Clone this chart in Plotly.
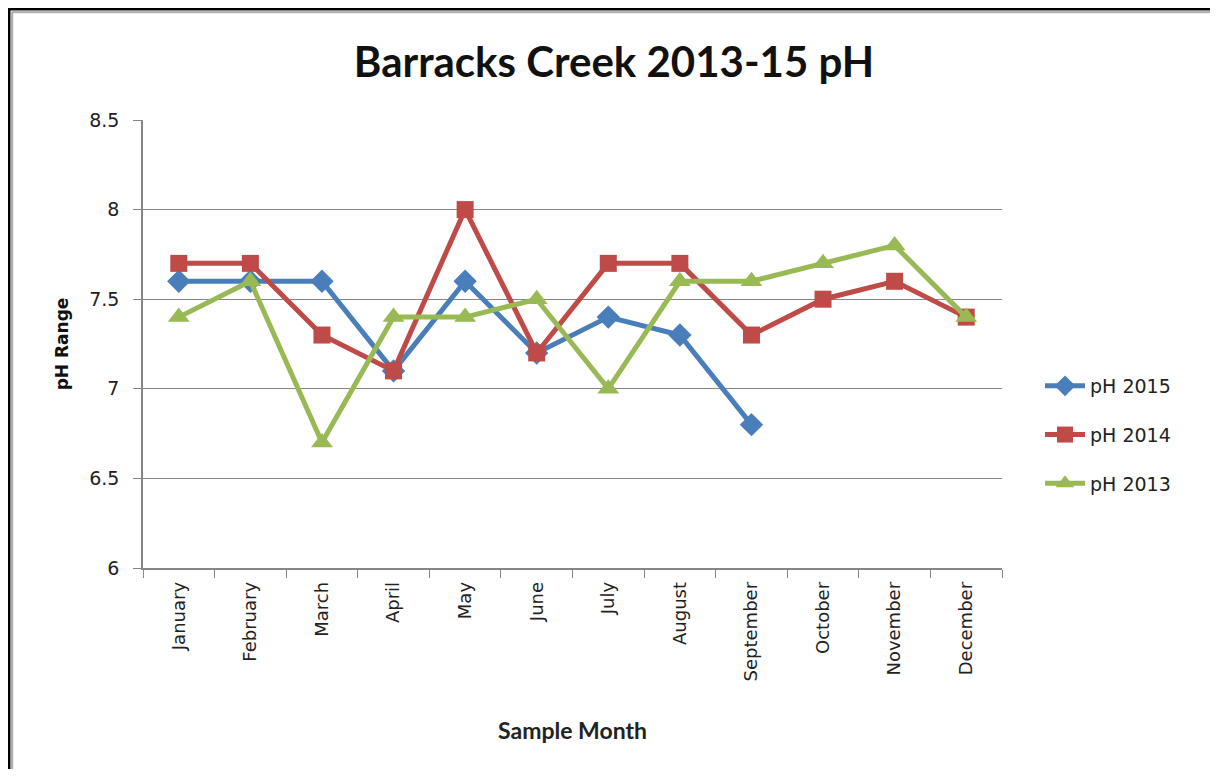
import plotly.graph_objects as go

months = ["January", "February", "March", "April", "May", "June", "July",
          "August", "September", "October", "November", "December"]
ph_2015 = [7.6, 7.6, 7.6, 7.1, 7.6, 7.2, 7.4, 7.3, 6.8]
ph_2014 = [7.7, 7.7, 7.3, 7.1, 8.0, 7.2, 7.7, 7.7, 7.3, 7.5, 7.6, 7.4]
ph_2013 = [7.4, 7.6, 6.7, 7.4, 7.4, 7.5, 7.0, 7.6, 7.6, 7.7, 7.8, 7.4]
y_ticks = [6, 6.5, 7, 7.5, 8, 8.5]
y_tick_labels = ["6", "6.5", "7", "7.5", "8", "8.5"]

series = [
    ("pH 2015", ph_2015, "#4A7EBB", "diamond", 18),
    ("pH 2014", ph_2014, "#BE4B48", "square", 17),
    ("pH 2013", ph_2013, "#98B954", "triangle-up", 19),
]

fig = go.Figure()
for name, vals, color, sym, size in series:
    fig.add_trace(go.Scatter(
        x=months[:len(vals)], y=vals, name=name, mode="lines+markers",
        line=dict(color=color, width=5),
        marker=dict(symbol=sym, size=size, color=color),
        legendgroup=name,
    ))

# page has an 8px body margin; figure coordinates = page coordinates - 8
W, H = 1202, 761
l, t = 135, 112
r = W - (1002 - 8)
b = H - (568 - 8)

fig.update_layout(
    width=W, height=H,
    paper_bgcolor="white", plot_bgcolor="white",
    margin=dict(l=l, r=r, t=t, b=b),
    title=dict(text="<b>Barracks Creek 2013-15 pH</b>", x=(614 - 8) / W, xanchor="center",
               y=1 - (62 - 8) / H, yanchor="middle",
               font=dict(family="Lato", size=42, color="#111111")),
    xaxis=dict(
        categoryorder="array", categoryarray=months, type="category",
        range=[-0.5, 11.5], tickangle=-90,
        tickfont=dict(family="DejaVu Sans", size=18, color="#222222"),
        ticklabelstandoff=5,
        showline=True, linecolor="#868686", linewidth=1.5,
        ticks="outside", tickson="boundaries", ticklen=8, tickcolor="#868686",
        showgrid=False,
        title=dict(text="<b>Sample Month</b>", standoff=42,
                   font=dict(family="Lato", size=23, color="#222222")),
    ),
    yaxis=dict(
        range=[6, 8.5], tickvals=y_ticks, ticktext=y_tick_labels,
        tickfont=dict(family="DejaVu Sans", size=19, color="#222222"),
        ticklabelstandoff=10,
        showline=True, linecolor="#868686", linewidth=1.5,
        ticks="outside", ticklen=8, tickcolor="#868686",
        showgrid=True, gridcolor="#868686", gridwidth=1.3, zeroline=False,
        title=dict(text="<b>pH Range</b>", standoff=16,
                   font=dict(family="DejaVu Sans", size=17, color="#111111")),
    ),
    legend=dict(x=(1040 - 8 - l) / (W - l - r), xanchor="left",
                y=(568 - 435) / 448, yanchor="middle",
                font=dict(family="DejaVu Sans", size=19, color="#222222"),
                tracegroupgap=21, itemwidth=40, bgcolor="rgba(0,0,0,0)"),
    showlegend=True,
)

pw, ph = W - l - r, H - t - b
def px(x):
    return (x - l) / pw
def py(y):
    return (H - b - y) / ph
fig.add_shape(type="line", xref="paper", yref="paper", x0=px(0), x1=px(W), y0=py(1), y1=py(1),
              line=dict(color="black", width=3))
fig.add_shape(type="line", xref="paper", yref="paper", x0=px(1), x1=px(1), y0=py(0), y1=py(H),
              line=dict(color="black", width=3))
fig.add_shape(type="line", xref="paper", yref="paper", x0=px(4), x1=px(W), y0=py(4), y1=py(4),
              line=dict(color="#b0b0b0", width=2.5))
fig.add_shape(type="line", xref="paper", yref="paper", x0=px(4), x1=px(4), y0=py(4), y1=py(H),
              line=dict(color="#b0b0b0", width=2.5))

fig.write_html("out.html")
